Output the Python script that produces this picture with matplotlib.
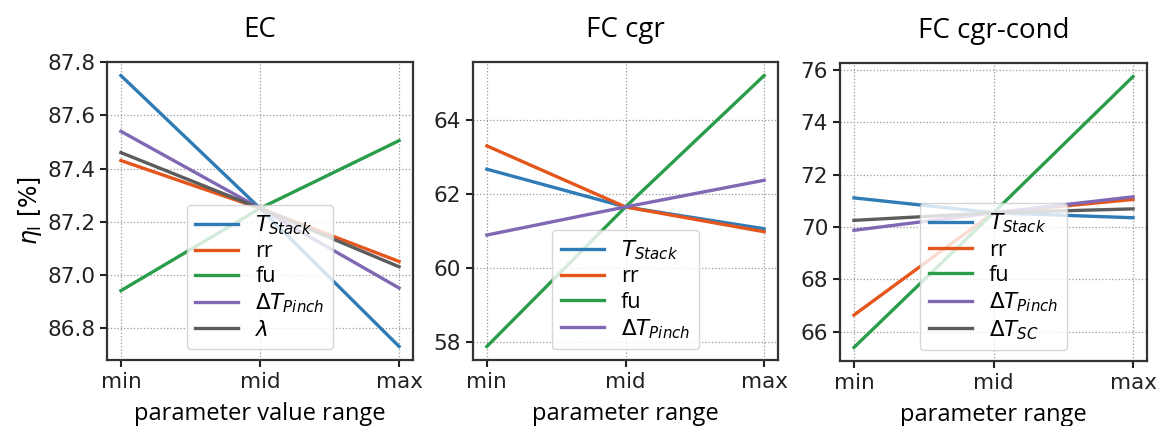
import matplotlib
matplotlib.use("Agg")
import matplotlib.pyplot as plt

plt.rcParams['font.family'] = 'DejaVu Sans'

# x categories
x_labels = ['min', 'mid', 'max']

# EC
ec_names = [r'$T_{Stack}$', 'rr', 'fu', r'$\Delta T_{Pinch}$', r'$\lambda$']
ec_tstack = [87.75, 87.25, 86.73]
ec_rr = [87.43, 87.25, 87.05]
ec_fu = [86.94, 87.25, 87.505]
ec_pinch = [87.54, 87.25, 86.95]
ec_lambda = [87.46, 87.25, 87.03]

# FC cgr
cgr_names = [r'$T_{Stack}$', 'rr', 'fu', r'$\Delta T_{Pinch}$']
cgr_tstack = [62.68, 61.66, 61.07]
cgr_rr = [63.31, 61.66, 60.99]
cgr_fu = [57.89, 61.66, 65.21]
cgr_pinch = [60.90, 61.66, 62.38]

# FC cgr-cond
cond_names = [r'$T_{Stack}$', 'rr', 'fu', r'$\Delta T_{Pinch}$', r'$\Delta T_{SC}$']
cond_tstack = [71.11, 70.54, 70.35]
cond_rr = [66.63, 70.54, 71.05]
cond_fu = [65.39, 70.54, 75.75]
cond_pinch = [69.87, 70.54, 71.15]
cond_sc = [70.25, 70.54, 70.69]

colors = ['#2f7bb6', '#e4561c', '#2a9d4a', '#8068b4', '#5c5c5c']

W, H = 1159, 426
fig = plt.figure(figsize=(W / 100, H / 100), dpi=100)

def px_axes(left, right, top, bottom):
    return fig.add_axes([left / W, (H - bottom) / H, (right - left) / W, (bottom - top) / H])

ax1 = px_axes(107, 413, 62, 360)
ax2 = px_axes(473, 778, 62, 360)
ax3 = px_axes(840, 1147, 63, 361)

panels = [
    (ax1, 'EC', 'parameter value range', ec_names, [ec_tstack, ec_rr, ec_fu, ec_pinch, ec_lambda]),
    (ax2, 'FC cgr', 'parameter range', cgr_names, [cgr_tstack, cgr_rr, cgr_fu, cgr_pinch]),
    (ax3, 'FC cgr-cond', 'parameter range', cond_names, [cond_tstack, cond_rr, cond_fu, cond_pinch, cond_sc]),
]

for ax, title, xlab, names, series in panels:
    for i, (name, vals) in enumerate(zip(names, series)):
        ax.plot(x_labels, vals, color=colors[i], lw=2.4, label=name)
    ax.grid(True, ls=':', color='#999999', lw=0.9)
    ax.tick_params(labelsize=15.5, width=1.5, length=5, colors='#222222')
    for s in ax.spines.values():
        s.set_linewidth(1.6)
        s.set_color('#333333')
    ax.set_title(title, fontsize=20, family='Open Sans', pad=18)
    ax.set_xlabel(xlab, fontsize=17, family='Open Sans', labelpad=7)
    leg = ax.legend(loc='lower center', prop={'family': 'Open Sans', 'size': 15.5},
                    handlelength=2.0, framealpha=0.8, borderpad=0.4, labelspacing=0.2)

ax1.set_yticks([86.8, 87.0, 87.2, 87.4, 87.6, 87.8])
ax2.set_yticks([58, 60, 62, 64])
ax3.set_yticks([66, 68, 70, 72, 74, 76])
ax1.set_ylabel(r'$\eta_\mathrm{I}$ [%]', fontsize=17, labelpad=2)

fig.savefig('out.png', dpi=100)
